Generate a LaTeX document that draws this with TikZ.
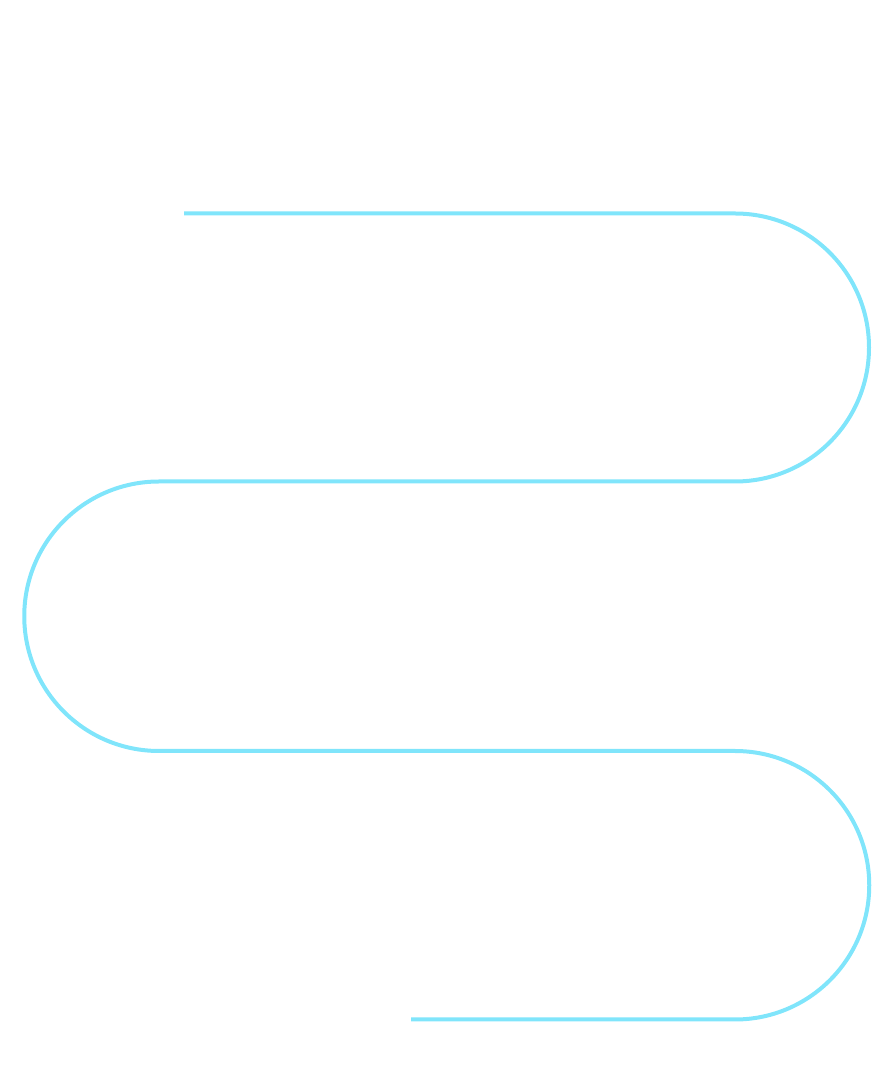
\documentclass[tikz,border=0pt]{standalone}
\definecolor{wave}{RGB}{128,229,251}
\tikzset{serpent/.style={draw=wave,line width=4pt}}
\begin{document}
\begin{tikzpicture}[x=1pt,y=1pt]
\useasboundingbox (0,0) rectangle (872,1069);
\draw[serpent] (184,855.5) -- (735,855.5) arc[start angle=90,end angle=-90,radius=134]
  -- (159,587.5) arc[start angle=90,end angle=270,radius=134.75]
  -- (735,318) arc[start angle=90,end angle=-90,radius=134.25]
  -- (411,49.5);
\end{tikzpicture}
\end{document}
